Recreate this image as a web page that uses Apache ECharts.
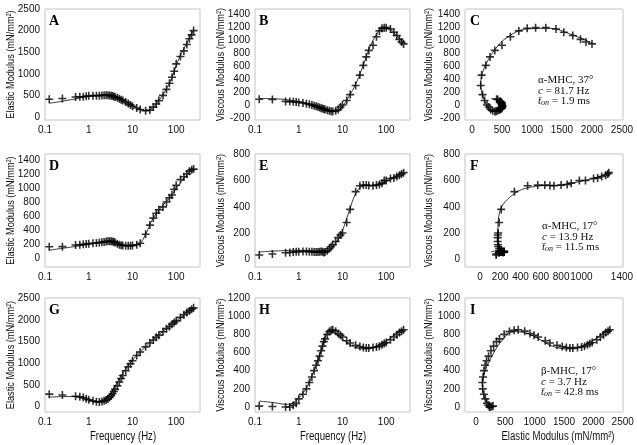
<!DOCTYPE html>
<html><head><meta charset="utf-8">
<script src="https://cdn.jsdelivr.net/npm/echarts@6/dist/echarts.min.js"></script>
<style>html,body{margin:0;padding:0;background:#fff}#c{width:637px;height:445px}</style>
</head><body><div id="c"></div>
<script>
// ---- data ----
const freq = [0.125,0.25,0.5,0.625,0.75,0.875,1,1.25,1.5,1.75,2,2.25,2.5,2.75,3,3.25,3.5,3.75,4,4.5,5,5.5,6,7,8,9,10,12.5,15,20,25,30,35,40,50,60,70,80,90,100,125,150,175,200,225,250];
const fitFreq = [0.125,0.2,0.3,0.5,0.7,1,1.5,2,3,4,5,7,10,14,20,28,40,56,80,110,160,250];

// alpha-MHC 37 deg
const elasticA = [410,430,465,470,470,480,490,495,495,495,500,505,505,505,500,495,485,475,465,445,420,400,380,345,310,280,250,210,175,145,160,230,300,380,500,640,780,920,1060,1230,1400,1530,1680,1810,1900,2000];
const viscousB = [88,85,55,52,50,45,40,30,20,10,0,-10,-20,-30,-40,-50,-55,-60,-70,-80,-90,-95,-100,-90,-70,-30,0,70,160,300,460,610,740,840,920,1050,1140,1180,1190,1190,1170,1120,1070,1010,970,940];
const fitA = [320,350,380,420,450,475,495,505,500,470,430,350,260,185,145,200,380,600,920,1300,1640,2010];
const fitB = [100,98,95,85,70,55,30,5,-40,-70,-88,-95,-20,130,320,560,850,1050,1170,1180,1090,950];

// alpha-MHC 17 deg
const elasticD = [160,162,185,190,195,200,205,210,215,220,225,230,235,238,240,238,235,230,220,205,190,182,178,175,175,176,180,190,210,340,470,570,640,690,730,800,860,900,980,1040,1120,1160,1200,1240,1260,1270];
const viscousE = [33,40,50,52,55,57,58,60,60,58,57,56,55,55,57,60,58,52,55,65,80,95,110,135,165,185,200,280,380,515,560,565,565,562,560,565,570,580,600,600,615,620,630,640,650,660];
const fitD = [110,130,145,165,180,195,210,225,235,225,205,185,178,195,340,540,680,790,900,1030,1160,1300];
const fitE = [55,60,63,66,68,68,67,65,62,60,72,125,220,360,500,555,562,565,580,600,625,665];

// beta-MHC 17 deg
const elasticG = [290,270,240,230,210,185,160,135,115,110,120,135,155,180,215,255,300,350,400,480,570,650,720,830,920,990,1060,1180,1260,1380,1470,1540,1600,1650,1730,1800,1850,1900,1940,1980,2060,2120,2170,2210,2250,2280];
const viscousH = [10,5,0,0,20,40,90,140,200,270,330,400,460,510,560,620,670,720,750,800,830,845,850,835,810,790,770,730,705,680,665,655,650,650,655,660,670,685,700,710,740,770,795,820,835,850];
const fitG = [220,230,235,230,200,150,110,130,280,480,640,870,1070,1230,1380,1520,1660,1780,1900,2010,2140,2290];
const fitH = [65,55,45,30,40,100,210,340,570,760,830,810,750,690,655,640,640,660,700,740,800,855];

// tick labels
const freqTicks = [0.1,1,10,100];
const ticks2500 = [0,500,1000,1500,2000,2500];
const ticksB = [-200,0,200,400,600,800,1000,1200,1400];
const ticks1400 = [0,200,400,600,800,1000,1200,1400];
const ticks800 = [0,200,400,600,800];
const ticks1200 = [0,200,400,600,800,1000,1200];

const labels = ['A','B','C','D','E','F','G','H','I'];
const freqTitle = 'Frequency (Hz)';
const elasticTitle = 'Elastic Modulus (mN/mm²)';
const viscousTitle = 'Viscous Modulus (mN/mm²)';

// ---- layout ----
const colL = [45,255,465], colW = [155,155,158];
const rowT = [9,154,298], rowH = [111,113,114];
const titleX = [11,221,429];

const panels = [
  {type:'f', x:freq, y:elasticA, fx:fitFreq, fy:fitA, ymin:-69, ymax:2500, yt:ticks2500, yname:elasticTitle},
  {type:'f', x:freq, y:viscousB, fx:fitFreq, fy:fitB, ymin:-231, ymax:1477, yt:ticksB, yname:viscousTitle},
  {type:'n', x:elasticA, y:viscousB, fx:fitA, fy:fitB, xmin:-117, xmax:2517, xt:ticks2500, ymin:-231, ymax:1477, yt:ticksB, yname:viscousTitle},
  {type:'f', x:freq, y:elasticD, fx:fitFreq, fy:fitD, ymin:-129, ymax:1486, yt:ticks1400, yname:elasticTitle},
  {type:'f', x:freq, y:viscousE, fx:fitFreq, fy:fitE, ymin:-59, ymax:802, yt:ticks800, yname:viscousTitle},
  {type:'n', x:elasticD, y:viscousE, fx:fitD, fy:fitE, xmin:-147, xmax:1410, xt:ticks1400, ymin:-59, ymax:802, yt:ticks800, yname:viscousTitle},
  {type:'f', x:freq, y:elasticG, fx:fitFreq, fy:fitG, ymin:-122, ymax:2507, yt:ticks2500, yname:elasticTitle},
  {type:'f', x:freq, y:viscousH, fx:fitFreq, fy:fitH, ymin:-55, ymax:1200, yt:ticks1200, yname:viscousTitle},
  {type:'n', x:elasticG, y:viscousH, fx:fitG, fy:fitH, xmin:-187, xmax:2505, xt:ticks2500, ymin:-55, ymax:1200, yt:ticks1200, yname:viscousTitle}
];

const sansFam = '"Liberation Sans", Arial, sans-serif';
const labelStyle = {color:'#111', fontFamily:sansFam, fontSize:10, hideOverlap:false, showMinLabel:true, showMaxLabel:true};
const plus = 'path://M-1,-5H1V-1H5V1H1V5H-1V1H-5V-1H-1Z';
const fmtNum = v => String(+Number(v).toPrecision(4));

const grid=[], xAxis=[], yAxis=[], series=[], graphic=[];
panels.forEach((p,i)=>{
  const r = Math.floor(i/3), c = i%3;
  grid.push({left:colL[c], top:rowT[r], width:colW[c], height:rowH[r], show:true, borderColor:'#c4c4c4', borderWidth:1, backgroundColor:'transparent'});
  if (p.type==='f') {
    xAxis.push({gridIndex:i, type:'log', logBase:10, min:0.1, max:350,
      axisLine:{show:false}, axisTick:{show:false}, splitLine:{show:false},
      axisLabel:Object.assign({margin:5, customValues:freqTicks, formatter:fmtNum}, labelStyle)});
  } else {
    xAxis.push({gridIndex:i, type:'value', min:p.xmin, max:p.xmax,
      axisLine:{show:false}, axisTick:{show:false}, splitLine:{show:false},
      axisLabel:Object.assign({margin:5, customValues:p.xt, formatter:fmtNum}, labelStyle)});
  }
  yAxis.push({gridIndex:i, type:'value', min:p.ymin, max:p.ymax,
    axisLine:{show:false}, axisTick:{show:false}, splitLine:{show:false},
    axisLabel:Object.assign({margin:5, customValues:p.yt, formatter:fmtNum}, labelStyle)});
  series.push({type:'line', xAxisIndex:i, yAxisIndex:i, data:p.fx.map((v,k)=>[v,p.fy[k]]),
    smooth:0.4, showSymbol:false, symbol:'none', lineStyle:{color:'#222', width:0.9}, silent:true, z:2});
  series.push({type:'scatter', xAxisIndex:i, yAxisIndex:i, data:p.x.map((v,k)=>[v,p.y[k]]),
    symbol:plus, symbolSize:8, itemStyle:{color:'#000'}, silent:true, z:3});
  graphic.push({type:'text', left:colL[c]+(c===2?5:4), top:rowT[r]+5,
    style:{text:labels[i], font:'bold 14px "Liberation Serif", "Times New Roman", serif', fill:'#000'}});
  // y axis title (horizontally condensed like the reference)
  graphic.push({type:'text', x:titleX[c], y:rowT[r]+rowH[r]/2, rotation:Math.PI/2, scaleX:0.8,
    style:{text:p.yname, font:'11.5px '+sansFam, fill:'#111', textAlign:'center', textVerticalAlign:'middle'}});
});

// x axis titles
const xtStyle = {font:'12px '+sansFam, fill:'#111', textAlign:'center', textVerticalAlign:'middle'};
graphic.push({type:'text', x:123, y:437, scaleX:0.8, style:Object.assign({text:freqTitle}, xtStyle)});
graphic.push({type:'text', x:333, y:437, scaleX:0.8, style:Object.assign({text:freqTitle}, xtStyle)});
graphic.push({type:'text', x:558, y:437, scaleX:0.8, style:Object.assign({text:elasticTitle}, xtStyle)});

// annotations
const annots = [
  {x:538, y:75, head:'α-MHC, 37°', c:'81.7', t:'1.9'},
  {x:542, y:221, head:'α-MHC, 17°', c:'13.9', t:'11.5'},
  {x:541, y:366, head:'β-MHC, 17°', c:'3.7', t:'42.8'}
];
annots.forEach(a=>{
  graphic.push({type:'text', x:a.x, y:a.y, style:{
    text:a.head+'\n{i|c} = '+a.c+' Hz\n{i|t\u0304}{s|on} = '+a.t+' ms',
    font:'11px "Liberation Serif", "Times New Roman", serif', fill:'#111', lineHeight:10.5,
    rich:{i:{font:'italic 11px "Liberation Serif", serif', fill:'#111'},
          s:{font:'italic 8px "Liberation Serif", serif', fill:'#111', verticalAlign:'bottom', padding:[3,0,0,0]}}
  }});
});

const chart = echarts.init(document.getElementById('c'), null, {renderer:'canvas'});
chart.setOption({animation:false, backgroundColor:'#fff', grid, xAxis, yAxis, series, graphic});
</script></body></html>
